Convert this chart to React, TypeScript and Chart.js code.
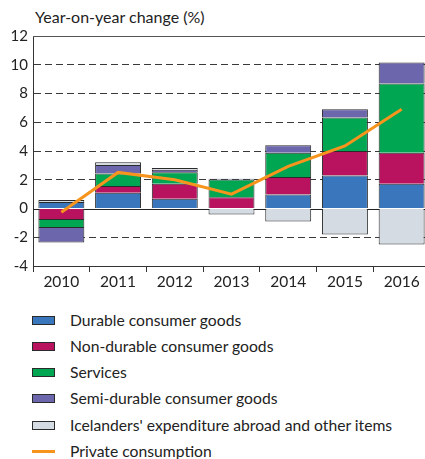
import React, { useEffect, useRef } from "react";
import { Chart, registerables } from "chart.js";

Chart.register(...registerables);

const categories = ["2010", "2011", "2012", "2013", "2014", "2015", "2016"];
const durable = [0.45, 1.1, 0.68, 0, 0.98, 2.3, 1.72];
const nonDurable = [-0.8, 0.47, 1.04, 0.79, 1.21, 1.7, 2.16];
const services = [-0.55, 0.86, 0.81, 1.23, 1.69, 2.33, 4.82];
const semiDurable = [-1.02, 0.6, 0.17, 0.05, 0.52, 0.58, 1.46];
const otherItems = [0.15, 0.19, 0.11, -0.42, -0.91, -1.81, -2.51];
const privateConsumption = [-0.26, 2.51, 2.0, 1.0, 2.93, 4.35, 6.9];

const seriesNames = [
  "Durable consumer goods",
  "Non-durable consumer goods",
  "Services",
  "Semi-durable consumer goods",
  "Icelanders' expenditure abroad and other items",
  "Private consumption",
];
const colors = ["#3a76bb", "#b9125f", "#00a651", "#6c67ad", "#d4dbe3", "#f7941e"];

const FONT = "Lato, 'Open Sans', sans-serif";

const gridPlugin = {
  id: "solidLines",
  beforeDatasetsDraw(chart: any) {
    const { ctx, chartArea, scales } = chart;
    const y = scales.y;
    ctx.save();
    ctx.setLineDash([]);
    ctx.lineWidth = 1;
    ctx.strokeStyle = "#222";
    const y0 = Math.round(y.getPixelForValue(0)) + 0.5;
    ctx.beginPath();
    ctx.moveTo(chartArea.left, y0);
    ctx.lineTo(chartArea.right, y0);
    ctx.stroke();
    ctx.strokeStyle = "#555";
    const yt = Math.round(y.getPixelForValue(12)) + 0.5;
    ctx.beginPath();
    ctx.moveTo(chartArea.left, yt);
    ctx.lineTo(chartArea.right, yt);
    ctx.stroke();
    ctx.restore();
  },
};

export default function App() {
  const ref = useRef<HTMLCanvasElement>(null);

  useEffect(() => {
    if (!ref.current) return;
    const barSets = [durable, nonDurable, services, semiDurable, otherItems];
    const datasets: any[] = barSets.map((data, i) => ({
      type: "bar",
      label: seriesNames[i],
      data,
      backgroundColor: colors[i],
      borderColor: "#2a2a2a",
      borderWidth: 1,
      stack: "bars",
      order: 1,
      barPercentage: 0.81,
      categoryPercentage: 1,
    }));
    datasets.push({
      type: "line",
      label: seriesNames[5],
      data: privateConsumption,
      borderColor: colors[5],
      backgroundColor: colors[5],
      borderWidth: 3,
      pointRadius: 0,
      tension: 0,
      stack: "line",
      order: 0,
    });
    const chart = new Chart(ref.current, {
      type: "bar",
      data: { labels: categories, datasets },
      options: {
        animation: false,
        responsive: false,
        layout: { padding: { top: 36, right: 2, left: 0, bottom: 0 } },
        plugins: { legend: { display: false }, tooltip: { enabled: false }, title: { display: false } },
        scales: {
          x: {
            stacked: true,
            grid: {
              display: true,
              drawOnChartArea: false,
              drawTicks: true,
              tickLength: 6,
              color: "#333",
              offset: true,
            },
            border: { display: true, color: "#333", width: 1 },
            ticks: { color: "#222", font: { family: FONT, size: 15.5 }, padding: 1 },
            afterFit: (s: any) => {
              s.height = 34;
            },
          },
          y: {
            stacked: true,
            min: -4,
            max: 12,
            ticks: { stepSize: 2, color: "#222", font: { family: FONT, size: 15 }, padding: 5 },
            grid: {
              drawTicks: false,
              color: (c: any) => (c.tick && (c.tick.value === 0 || c.tick.value === 12 || c.tick.value === -4) ? "rgba(0,0,0,0)" : "#3a3a3a"),
              lineWidth: 1,
            },
            border: { display: true, color: "#333", width: 1, dash: [7, 4] },
            afterFit: (s: any) => {
              s.width = 33;
            },
          },
        },
      },
      plugins: [gridPlugin],
    } as any);
    return () => chart.destroy();
  }, []);

  const legendTops = [320, 346, 372, 398, 425, 451];

  return (
    <div
      style={{
        position: "absolute",
        left: 0,
        top: 0,
        width: 425,
        height: 459,
        overflow: "hidden",
        background: "#fff",
        fontFamily: FONT,
        color: "#222",
      }}
    >
      <div style={{ position: "absolute", left: 35, top: 8, fontSize: 16, lineHeight: "18px", whiteSpace: "nowrap" }}>
        Year-on-year change (%)
      </div>
      <canvas ref={ref} width={432} height={300} style={{ position: "absolute", left: 0, top: 0 }} />
      {seriesNames.map((name, i) => (
        <div key={name} style={{ position: "absolute", left: 0, top: legendTops[i] - 10, height: 20, width: 425 }}>
          {i < 5 ? (
            <div
              style={{
                position: "absolute",
                left: 32,
                top: 6,
                width: 21,
                height: 7,
                background: colors[i],
                border: "1px solid #2a2a2a",
              }}
            />
          ) : (
            <div style={{ position: "absolute", left: 32, top: 9, width: 23, height: 3, background: colors[i] }} />
          )}
          <div style={{ position: "absolute", left: 70, top: 0, fontSize: 15.7, lineHeight: "20px", whiteSpace: "nowrap" }}>
            {name}
          </div>
        </div>
      ))}
    </div>
  );
}
